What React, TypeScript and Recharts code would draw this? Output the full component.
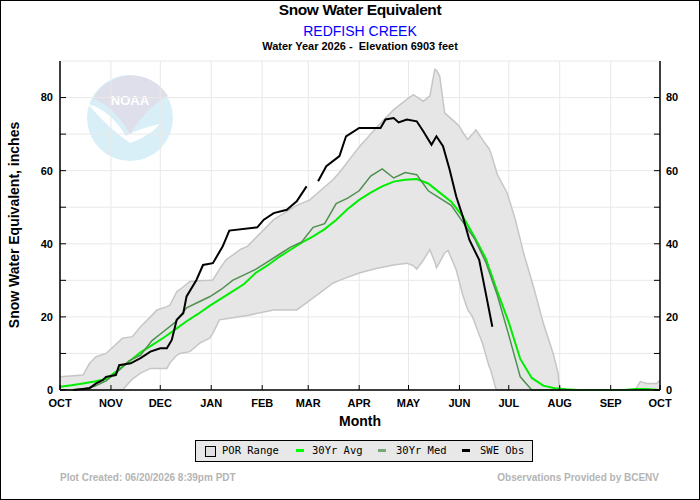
import React from 'react'
import { ComposedChart, Area, Line, XAxis, YAxis, CartesianGrid } from 'recharts'

// water year axis: day 0 = Oct 1
const monthDays = [0, 31, 61, 92, 123, 151, 182, 212, 243, 273, 304, 335, 365]
const monthLabels = ['OCT', 'NOV', 'DEC', 'JAN', 'FEB', 'MAR', 'APR', 'MAY', 'JUN', 'JUL', 'AUG', 'SEP', 'OCT']
const sweTicks = [0, 10, 20, 30, 40, 50, 60, 70, 80]

// period of record range
const porDays = [
  0, 14, 18, 22, 28, 38, 44, 49, 55, 59, 65, 67, 71, 73, 79, 85, 91, 93, 97, 101,
  110, 114, 130, 144, 152, 166, 170, 182, 193, 203, 211, 215, 217, 221, 225, 228, 229, 231, 234, 236,
  241, 243, 245, 248, 251, 253, 257, 261, 262, 265, 266, 272, 277, 282, 288, 294, 300, 303, 304, 350,
  353, 357, 363, 365,
]
const porLow = [
  0, 0, 0, 0, 0, 0, 3.0, 4.6, 5.9, 5.9, 5.9, 7.5, 9.5, 10.0, 10.5, 12.8, 14.2, 15.5, 19.2, 19.5,
  20.1, 20.4, 21.9, 21.9, 24.5, 29.2, 30.0, 32.0, 33.3, 34.2, 34.7, 34.0, 33.1, 35.5, 38.4, 35.0, 33.5, 35.0, 37.5, 38.2,
  32.9, 29.5, 26.0, 22.0, 20.0, 17.5, 12.8, 6.5, 5.5, 0.5, 0, 0, 0, 0, 0, 0, 0, 0, 0, 0,
  0, 0, 0, 0,
]
const porHigh = [
  3.6, 4.1, 7.3, 9.1, 10.0, 14.2, 14.6, 17.3, 20.0, 21.9, 22.8, 23.3, 26.9, 27.5, 29.7, 29.9, 30.0, 30.1, 33.0, 35.6,
  38.5, 39.3, 46.6, 50.5, 52.0, 57.5, 59.5, 66.5, 72.0, 76.7, 79.5, 80.8, 80.2, 79.0, 80.4, 87.7, 87.5, 85.8, 75.8, 75.0,
  73.0, 72.1, 70.5, 68.5, 70.0, 71.2, 68.5, 66.0, 65.0, 60.5, 59.0, 53.9, 46.6, 37.5, 28.3, 18.3, 10.0, 4.6, 0, 0,
  2.3, 1.8, 1.8, 2.7,
]

// 30 year normals, weekly
const normDays = [
  0, 7, 14, 21, 28, 35, 42, 49, 56, 63, 70, 77, 84, 91, 98, 105, 112, 119, 126, 133,
  140, 147, 154, 161, 168, 175, 182, 189, 196, 203, 210, 217, 224, 231, 238, 245, 252, 259, 266, 273,
  280, 287, 294, 301, 308, 315, 322, 329, 336, 343, 350, 357, 364,
]
const avgSwe = [
  0.9, 1.3, 1.8, 2.3, 3.0, 5.3, 7.8, 10.3, 12.3, 14.3, 16.5, 18.8, 20.8, 23.0, 25.0, 27.0, 29.0, 32.0, 34.0, 36.3,
  38.3, 40.3, 42.0, 44.0, 46.5, 49.5, 52.0, 54.0, 55.7, 57.0, 57.5, 57.7, 56.5, 54.0, 51.5, 47.5, 42.0, 36.0, 27.0, 18.5,
  8.5, 3.3, 1.2, 0.5, 0.2, 0, 0, 0, 0, 0, 0.3, 0.3, 0,
]
const medSwe = [
  0, 0, 0.3, 1.0, 2.5, 5.0, 8.0, 9.5, 13.5, 16.0, 18.5, 22.5, 24.0, 25.5, 27.5, 30.0, 31.5, 33.0, 35.0, 37.0,
  39.0, 40.5, 44.5, 45.5, 51.0, 52.5, 54.5, 58.5, 60.5, 58.0, 59.5, 58.9, 54.5, 52.5, 50.5, 46.0, 41.5, 35.0, 26.0, 15.0,
  3.6, 0, 0, 0, 0, 0, 0, 0, 0, 0, 0, 0, 0,
]

// this year's observations (null = missing)
const obsDays = [
  8, 18, 22, 26, 28, 34, 36, 43, 49, 55, 61, 65, 68, 71, 75, 77, 83, 87, 93, 99,
  103, 120, 124, 130, 138, 144, 150, 152, 157, 162, 170, 174, 182, 195, 198, 203, 206, 211, 217, 221,
  226, 229, 233, 237, 241, 245, 249, 255, 259, 263,
]
const obsSwe = [
  0, 0.5, 1.8, 2.7, 3.6, 4.1, 6.8, 7.3, 8.7, 10.5, 11.4, 11.4, 13.7, 19.2, 21.0, 25.6, 30.1, 34.2, 34.7, 39.3,
  43.6, 44.5, 46.6, 48.4, 49.3, 51.6, 55.7, null, 57.1, 61.2, 64.0, 69.4, 71.7, 71.7, 74.0, 74.4, 73.2, 74.0, 73.5, 70.8,
  67.1, 69.4, 66.7, 60.3, 53.0, 47.5, 41.1, 35.6, 26.5, 17.3,
]

const porData = porDays.map((day, i) => ({ day, range: [porLow[i], porHigh[i]] }))
const avgData = normDays.map((day, i) => ({ day, swe: avgSwe[i] }))
const medData = normDays.map((day, i) => ({ day, swe: medSwe[i] }))
const obsData = obsDays.map((day, i) => ({ day, swe: obsSwe[i] }))

const FONT = '"Liberation Sans", Arial, sans-serif'
const tickStyle = { fontSize: 11, fontWeight: 'bold', fill: '#000', fontFamily: FONT }

function NoaaLogo() {
  // faded watermark in the upper left of the plot
  return (
    <svg width={700} height={500} style={{ position: 'absolute', left: 0, top: 0 }}>
      <circle cx={130} cy={118} r={43} fill="#d9eff7" />
      <path d="M88,104 Q110,110 126,136 Q140,128 160,124 Q150,136 130,143 Q108,128 88,104 Z" fill="#ffffff" />
      <path d="M93,99 A43,43 0 0 1 168,96 Q148,106 130,134 Q114,106 93,99 Z" fill="#dedfeb" />
      <text x={130} y={105} textAnchor="middle" fontFamily={FONT} fontWeight="bold" fontSize={13} fill="#ffffff">
        NOAA
      </text>
    </svg>
  )
}

function Legend() {
  const text = { position: 'absolute' as const, top: 444, fontFamily: '"DejaVu Sans Mono", monospace', fontSize: 10.5 }
  const mark = (left: number, color: string) => (
    <div style={{ position: 'absolute', left, top: 449, width: 8, height: 3, background: color }} />
  )
  return (
    <>
      <div style={{ position: 'absolute', left: 195, top: 440, width: 336, height: 20, border: '1px solid #000', background: '#e8e8e8' }} />
      <div style={{ position: 'absolute', left: 205, top: 446, width: 9, height: 9, border: '1px solid #000', background: '#e0e0e0' }} />
      <div style={{ ...text, left: 222 }}>POR Range</div>
      {mark(296, '#00ff00')}
      <div style={{ ...text, left: 312 }}>30Yr Avg</div>
      {mark(378, '#78a878')}
      <div style={{ ...text, left: 396 }}>30Yr Med</div>
      {mark(462, '#000')}
      <div style={{ ...text, left: 480 }}>SWE Obs</div>
    </>
  )
}

export default function App() {
  return (
    <div
      style={{
        position: 'absolute',
        left: 0,
        top: 0,
        width: 700,
        height: 500,
        boxSizing: 'border-box',
        border: '1px solid #000',
        background: '#fff',
        fontFamily: FONT,
        overflow: 'hidden',
      }}
    >
      <div style={{ position: 'absolute', left: -1, top: -1, width: 700, height: 500 }}>
        <NoaaLogo />
        <div style={{ position: 'absolute', left: 0, top: 0 }}>
          <ComposedChart width={700} height={500} margin={{ top: 61, right: 10, bottom: 80, left: 10 }}>
            <CartesianGrid stroke="#e8e8e8" strokeWidth={1} />
            <XAxis
              dataKey="day"
              type="number"
              domain={[0, 365]}
              ticks={monthDays}
              interval={0}
              height={30}
              tickSize={-5}
              tickMargin={14}
              tickFormatter={(v) => monthLabels[monthDays.indexOf(v)]}
              tick={tickStyle}
              axisLine={{ stroke: '#000', strokeWidth: 1.5 }}
              tickLine={{ stroke: '#000' }}
              allowDuplicatedCategory={false}
            />
            <XAxis
              xAxisId="top"
              dataKey="day"
              orientation="top"
              type="number"
              domain={[0, 365]}
              ticks={monthDays}
              interval={0}
              height={0}
              tickSize={-6}
              tick={false}
              axisLine={{ stroke: '#000', strokeWidth: 1.5 }}
              tickLine={{ stroke: '#000' }}
            />
            <YAxis
              type="number"
              domain={[0, 90]}
              ticks={sweTicks}
              interval={0}
              width={50}
              tickSize={-6}
              tickMargin={13}
              tickFormatter={(v) => (v % 20 === 0 ? String(v) : '')}
              tick={tickStyle}
              axisLine={{ stroke: '#000', strokeWidth: 1.5 }}
              tickLine={{ stroke: '#000' }}
            />
            <YAxis
              yAxisId="right"
              orientation="right"
              type="number"
              domain={[0, 90]}
              ticks={sweTicks}
              interval={0}
              width={30}
              tickSize={-6}
              tickMargin={12}
              tickFormatter={(v) => (v % 20 === 0 ? String(v) : '')}
              tick={{ ...tickStyle, textAnchor: 'start' }}
              axisLine={{ stroke: '#000', strokeWidth: 1.5 }}
              tickLine={{ stroke: '#000' }}
            />
            <Area
              data={porData}
              dataKey="range"
              type="linear"
              stroke="#c6c6c6"
              strokeWidth={1.5}
              fill="#e6e6e6"
              fillOpacity={1}
              isAnimationActive={false}
            />
            <Line data={avgData} dataKey="swe" type="linear" stroke="#00ee00" strokeWidth={2} dot={false} isAnimationActive={false} />
            <Line data={medData} dataKey="swe" type="linear" stroke="#4f8f4f" strokeWidth={1.5} dot={false} isAnimationActive={false} />
            <Line
              data={obsData}
              dataKey="swe"
              type="linear"
              stroke="#000"
              strokeWidth={2}
              dot={false}
              connectNulls={false}
              isAnimationActive={false}
            />
            <Line
              data={avgData}
              dataKey="swe"
              xAxisId="top"
              yAxisId="right"
              stroke="none"
              dot={false}
              legendType="none"
              isAnimationActive={false}
            />
          </ComposedChart>
        </div>

        <div style={{ position: 'absolute', left: 60, width: 600, top: 1, textAlign: 'center', fontSize: 15.5, fontWeight: 'bold', letterSpacing: -0.4 }}>
          Snow Water Equivalent
        </div>
        <div style={{ position: 'absolute', left: 60, width: 600, top: 23, textAlign: 'center', fontSize: 14, color: '#0000ff' }}>
          REDFISH CREEK
        </div>
        <div style={{ position: 'absolute', left: 60, width: 600, top: 40, textAlign: 'center', fontSize: 11, fontWeight: 'bold' }}>
          Water Year 2026 -&nbsp; Elevation 6903 feet
        </div>
        <div
          style={{
            position: 'absolute',
            left: 14,
            top: 225,
            transform: 'translate(-50%, -50%) rotate(-90deg)',
            whiteSpace: 'nowrap',
            fontSize: 14,
            fontWeight: 'bold',
          }}
        >
          Snow Water Equivalent, inches
        </div>
        <div style={{ position: 'absolute', left: 60, width: 600, top: 413, textAlign: 'center', fontSize: 14, fontWeight: 'bold' }}>
          Month
        </div>
        <Legend />
        <div style={{ position: 'absolute', left: 60, top: 472, fontSize: 10, fontWeight: 'bold', color: '#b4b4b4' }}>
          Plot Created: 06/20/2026 8:39pm PDT
        </div>
        <div style={{ position: 'absolute', right: 41, top: 472, fontSize: 10, fontWeight: 'bold', color: '#b4b4b4' }}>
          Observations Provided by BCENV
        </div>
      </div>
    </div>
  )
}
